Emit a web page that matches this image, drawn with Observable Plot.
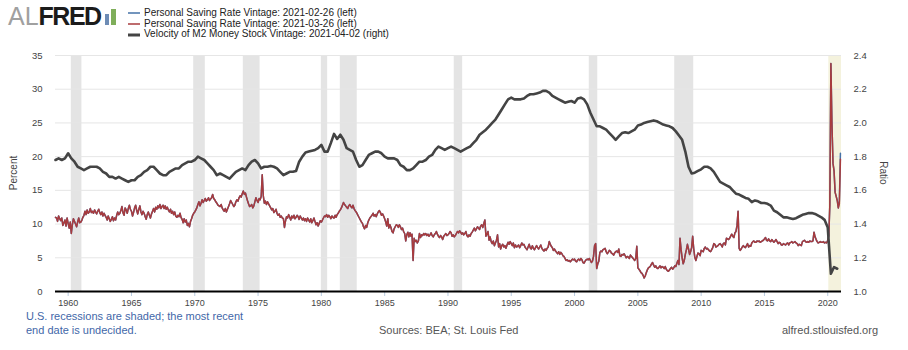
<!DOCTYPE html>
<html>
<head>
<meta charset="utf-8">
<script src="https://cdn.jsdelivr.net/npm/d3@7"></script>
<script src="https://cdn.jsdelivr.net/npm/@observablehq/plot@0.6"></script>
<style>
  body { margin: 0; background: #fff; font-family: "Liberation Sans", Arial, sans-serif; }
  #wrap { position: relative; width: 908px; height: 350px; overflow: hidden; background: #fff; }
  #header { position: relative; height: 45px; }
  .logo { position: absolute; left: 8px; top: 1px; font-size: 25px; line-height: 30px; white-space: nowrap; }
  .logo .al { color: #a0a0a0; }
  .logo .fred { color: #1b1b1b; font-weight: bold; letter-spacing: -1.5px; }
  .logo svg { vertical-align: top; margin-left: 4px; margin-top: 8px; }
  .legend { position: absolute; left: 128px; top: 8px; font-size: 10px; color: #222; line-height: 10.6px; }
  .legend div { white-space: nowrap; }
  .legend svg { vertical-align: middle; margin-right: 4px; }
  #chart { position: absolute; left: 0; top: 45px; }
  .foot { position: absolute; font-size: 11px; white-space: nowrap; }
  .note { color: #3f67a8; left: 26px; }
  .gray { color: #555; }
  .ytitle { position: absolute; font-size: 10px; color: #444; white-space: nowrap; width: 60px; text-align: center; line-height: 12px; }
</style>
</head>
<body>
<div id="wrap">
  <div id="header">
    <div class="logo"><span class="al">AL</span><span class="fred">FRED</span><svg width="14" height="16"><rect x="0" y="5" width="4" height="11" fill="#6d8cb5"/><rect x="6" y="0" width="5" height="16" fill="#7fae5a"/></svg></div>
    <div class="legend" id="legend"></div>
  </div>
  <div id="chart"></div>
  <div class="ytitle" id="ytitleLeft" style="left:-16px;top:167px;transform:rotate(-90deg)">Percent</div>
  <div class="ytitle" id="ytitleRight" style="left:853px;top:167px;transform:rotate(90deg)">Ratio</div>
  <div class="foot note" style="top:310px">U.S. recessions are shaded; the most recent</div>
  <div class="foot note" style="top:324px">end date is undecided.</div>
  <div class="foot gray" id="sources" style="top:324px;left:379px">Sources: BEA; St. Louis Fed</div>
  <div class="foot gray" style="top:324px;right:30px">alfred.stlouisfed.org</div>
</div>
<script>
// ---------------- DATA ----------------
// Personal Saving Rate, vintage 2021-03-26 (percent), monthly from Jan 1959 to Jan 2021
const savingRateMar = [
  11.0,10.9,10.4,11.2,10.8,10.5,10.9,9.8,10.2,10.6,9.7,10.9,   // 1959
  10.1,9.4,10.3,8.6,9.9,10.8,10.4,10.0,9.6,10.3,10.9,10.2,     // 1960
  10.3,10.6,11.0,11.3,11.9,11.4,12.1,11.6,11.8,12.3,11.7,11.9, // 1961
  11.6,12.1,11.8,11.5,11.9,12.2,11.7,11.4,11.8,11.2,11.6,11.3, // 1962
  11.0,10.6,11.2,10.8,10.4,10.7,11.1,10.5,10.9,10.6,11.3,11.8, // 1963
  11.4,11.6,12.0,12.6,11.7,11.3,12.4,12.1,11.6,12.3,12.8,12.2, // 1964
  11.9,11.2,11.7,12.4,12.8,12.0,11.5,12.2,12.7,11.8,11.4,11.9, // 1965
  11.6,11.1,10.7,11.4,11.8,11.3,10.9,11.5,11.9,12.3,11.8,12.5, // 1966
  12.2,12.7,12.4,12.9,12.3,12.6,12.8,12.3,12.7,12.2,12.5,12.1, // 1967
  11.8,12.2,11.6,11.9,11.4,11.8,11.2,11.0,11.3,11.1,11.6,11.0, // 1968
  10.7,10.2,10.8,10.3,10.6,9.8,10.1,9.6,10.4,10.8,11.3,11.6,   // 1969
  11.8,12.1,12.4,12.9,13.3,12.7,13.1,13.6,13.2,13.5,13.8,13.4, // 1970
  13.6,13.9,13.5,13.7,13.9,14.4,13.8,13.6,13.3,13.1,12.8,12.7, // 1971
  12.6,12.9,12.4,12.1,11.9,12.3,11.8,12.2,12.6,13.0,13.5,13.2, // 1972
  12.9,12.6,12.8,13.3,13.6,13.4,13.9,14.2,14.0,14.5,14.9,14.4, // 1973
  14.6,14.0,13.5,13.0,12.6,12.7,12.9,12.4,12.7,13.3,13.9,13.5, // 1974
  13.2,13.8,13.6,14.1,17.3,14.2,13.1,13.4,12.9,13.3,13.0,12.7, // 1975
  12.4,12.1,12.3,11.7,11.9,12.2,11.6,11.3,11.5,11.0,11.2,10.9, // 1976
  10.8,9.5,10.4,11.1,10.9,11.4,11.0,10.6,11.2,10.9,11.3,10.8,  // 1977
  11.0,11.3,11.1,10.7,11.2,10.9,10.6,10.9,10.5,10.8,10.4,10.9, // 1978
  10.6,10.3,10.8,10.2,10.5,10.9,10.4,9.9,10.2,9.7,10.1,10.5,   // 1979
  10.3,10.6,10.9,11.2,11.1,11.4,11.0,11.3,11.1,10.8,11.2,11.0, // 1980
  10.9,11.3,11.0,11.4,11.6,11.9,12.1,12.4,12.8,13.2,12.9,12.7, // 1981
  12.5,12.3,12.7,12.9,12.6,12.4,12.8,12.3,12.0,11.8,11.5,11.2, // 1982
  10.9,10.6,10.3,10.1,9.6,9.3,9.8,9.5,10.2,10.6,10.9,11.1,     // 1983
  11.3,11.6,11.2,11.4,11.1,11.5,11.8,12.0,11.7,11.3,11.5,11.2, // 1984
  10.8,10.3,9.7,10.8,9.4,9.9,9.5,8.9,8.7,9.3,9.6,9.9,          // 1985
  9.8,9.5,9.9,9.6,9.2,9.4,8.9,8.6,7.5,8.4,8.8,8.1,             // 1986
  8.7,8.2,8.5,4.6,7.9,7.4,7.6,7.2,7.5,8.6,8.0,8.4,             // 1987
  8.3,8.6,8.4,8.6,8.3,8.5,8.2,8.4,8.7,8.3,8.1,8.4,             // 1988
  8.6,8.9,8.5,8.2,8.0,8.3,8.1,7.7,8.2,8.4,8.6,8.3,             // 1989
  8.4,8.6,8.9,8.7,8.2,8.4,8.1,8.3,8.6,8.9,8.7,9.0,             // 1990
  8.8,8.5,8.7,8.4,8.6,8.9,8.3,8.1,8.4,8.2,8.6,8.8,             // 1991
  9.1,9.4,9.0,9.3,9.6,9.4,9.2,9.7,9.9,9.5,10.1,10.6,           // 1992
  8.2,8.5,8.9,7.6,8.1,7.4,7.1,7.5,6.8,7.2,7.6,8.4,             // 1993
  6.6,7.1,6.3,6.8,7.0,6.6,6.8,6.4,6.9,7.3,7.0,7.4,             // 1994
  7.1,6.8,7.2,6.5,6.9,6.6,6.7,6.9,6.5,6.8,7.2,6.9,             // 1995
  7.0,6.6,6.4,6.2,6.6,7.0,6.5,6.3,6.8,6.4,6.2,6.5,             // 1996
  6.8,6.5,6.3,6.6,6.9,6.4,6.2,6.0,6.3,6.1,6.4,6.6,             // 1997
  7.4,7.0,6.7,6.5,6.1,6.3,6.0,5.8,5.6,5.9,5.5,5.8,             // 1998
  5.6,5.3,5.2,4.9,4.6,4.7,4.5,4.6,4.4,4.6,4.8,4.7,             // 1999
  4.8,4.5,4.4,4.7,4.8,4.6,4.9,4.7,4.3,4.2,4.5,4.7,             // 2000
  4.8,4.7,4.9,4.6,4.3,4.5,5.2,6.8,7.1,3.4,4.1,4.5,             // 2001
  5.8,6.0,5.9,6.2,6.3,6.4,5.9,5.6,5.8,6.1,6.0,5.7,             // 2002
  5.6,5.4,5.7,5.9,6.0,5.8,6.3,5.3,5.2,5.5,5.4,5.6,             // 2003
  5.3,5.0,5.2,5.1,4.9,5.4,5.2,5.0,4.8,4.6,4.9,6.7,             // 2004
  3.5,3.3,3.1,2.8,2.7,2.4,2.0,2.3,2.8,3.2,3.5,3.6,             // 2005
  3.8,4.1,4.3,3.9,3.6,3.8,3.5,3.4,3.6,3.8,3.5,3.7,             // 2006
  3.6,3.4,3.7,3.3,3.1,3.0,3.2,3.4,3.6,3.3,3.5,3.8,             // 2007
  3.7,4.2,4.6,4.0,7.9,6.2,5.0,4.1,4.6,5.5,6.2,7.0,             // 2008
  6.3,5.5,5.9,6.5,8.2,6.3,5.1,4.6,5.2,5.7,5.6,5.3,             // 2009
  6.1,6.0,5.9,6.4,6.6,6.3,6.4,6.2,6.0,5.9,6.2,6.5,             // 2010
  7.1,7.0,6.6,6.7,6.8,7.0,7.1,6.9,6.6,7.1,7.2,6.9,             // 2011
  7.9,7.8,7.7,7.9,8.2,8.5,8.2,8.0,8.7,8.9,9.8,11.9,            // 2012
  6.4,6.1,6.3,6.6,6.8,6.6,6.5,6.8,7.1,6.6,6.8,6.7,             // 2013
  7.2,7.4,7.5,7.3,7.3,7.5,7.4,7.5,7.3,7.4,7.5,7.6,             // 2014
  7.8,8.0,7.6,7.5,7.8,7.5,7.4,7.7,7.5,7.3,7.5,7.7,             // 2015
  7.4,7.1,7.3,7.2,6.9,6.9,7.1,7.0,6.9,7.1,7.2,6.9,             // 2016
  7.2,7.3,7.4,7.2,7.3,7.4,7.2,7.1,6.8,7.0,6.9,6.8,             // 2017
  7.4,7.5,7.6,7.4,7.3,7.4,7.3,7.5,7.4,7.4,7.5,8.8,             // 2018
  8.1,7.7,7.4,7.2,7.3,7.4,7.3,7.3,7.4,7.2,7.3,7.2,             // 2019
  7.6,8.3,12.8,33.8,24.9,19.0,17.9,14.7,14.1,13.5,12.4,13.0,   // 2020
  19.6                                                         // 2021
];
// Vintage 2021-02-26 differs only in its last two months (Dec 2020, Jan 2021)
const savingRateFebTail = [13.4, 20.5];

// Velocity of M2 Money Stock, vintage 2021-04-02 (ratio), quarterly 1959Q1 to 2020Q4
const m2Velocity = [
  1.78,1.79,1.78,1.79,  1.82,1.79,1.77,1.74,  1.73,1.72,1.73,1.74,  1.74,1.74,1.73,1.71,  // 1959-62
  1.70,1.68,1.68,1.67,  1.68,1.67,1.66,1.65,  1.66,1.66,1.68,1.69,  1.71,1.72,1.74,1.74,  // 1963-66
  1.72,1.70,1.69,1.69,  1.71,1.72,1.73,1.73,  1.75,1.76,1.77,1.77,  1.78,1.80,1.79,1.78,  // 1967-70
  1.76,1.74,1.72,1.69,  1.70,1.69,1.68,1.67,  1.69,1.71,1.72,1.73,  1.72,1.75,1.77,1.78,  // 1971-74
  1.76,1.73,1.74,1.74,  1.745,1.74,1.73,1.71, 1.69,1.70,1.71,1.71,  1.715,1.77,1.80,1.825, // 1975-78
  1.83,1.835,1.84,1.85, 1.87,1.83,1.83,1.88,  1.935,1.905,1.93,1.90, 1.85,1.84,1.83,1.78,  // 1979-82
  1.74,1.75,1.78,1.81,  1.82,1.83,1.83,1.82,  1.80,1.79,1.79,1.79,  1.78,1.75,1.74,1.72,  // 1983-86
  1.72,1.73,1.75,1.77,  1.77,1.78,1.80,1.81,  1.84,1.86,1.85,1.84,  1.85,1.86,1.85,1.84,  // 1987-90
  1.83,1.84,1.85,1.86,  1.88,1.90,1.93,1.945, 1.96,1.98,2.00,2.02,  2.05,2.08,2.11,2.14,  // 1991-94
  2.15,2.14,2.14,2.14,  2.145,2.16,2.17,2.17, 2.175,2.18,2.19,2.19, 2.18,2.16,2.15,2.14,  // 1995-98
  2.13,2.12,2.125,2.13, 2.12,2.145,2.15,2.14, 2.11,2.06,2.02,1.98,  1.98,1.97,1.96,1.94,  // 1999-02
  1.92,1.90,1.92,1.94,  1.945,1.94,1.95,1.96, 1.985,1.99,2.00,2.005, 2.01,2.015,2.01,2.00, // 2003-06
  1.99,1.985,1.98,1.97, 1.95,1.925,1.90,1.83, 1.74,1.70,1.705,1.715, 1.725,1.74,1.74,1.73, // 2007-10
  1.71,1.68,1.65,1.64,  1.63,1.62,1.60,1.58,  1.575,1.565,1.555,1.55, 1.53,1.54,1.535,1.525, // 2011-14
  1.525,1.52,1.51,1.48, 1.47,1.455,1.44,1.44, 1.435,1.43,1.435,1.445, 1.455,1.46,1.465,1.465, // 2015-18
  1.46,1.45,1.44,1.425, 1.38,1.105,1.145,1.135                                            // 2019-20
];

// NBER recessions (shaded)
const recessionStart = ["1960-04-01","1969-12-01","1973-11-01","1980-01-01","1981-07-01","1990-07-01","2001-03-01","2007-12-01"];
const recessionEnd   = ["1961-02-01","1970-11-01","1975-03-01","1980-07-01","1982-11-01","1991-03-01","2001-11-01","2009-06-01"];
const openRecessionStart = ["2020-02-01"];

// Axis ticks
const percentTicks = [0, 5, 10, 15, 20, 25, 30, 35];
const ratioTicks = [1.0, 1.2, 1.4, 1.6, 1.8, 2.0, 2.2, 2.4];
const yearTicks = [1960, 1965, 1970, 1975, 1980, 1985, 1990, 1995, 2000, 2005, 2010, 2015, 2020];

// Legend
const seriesNames = [
  "Personal Saving Rate Vintage: 2021-02-26 (left)",
  "Personal Saving Rate Vintage: 2021-03-26 (left)",
  "Velocity of M2 Money Stock Vintage: 2021-04-02 (right)"
];
const seriesColors = ["#4572a7", "#a83b3e", "#444444"];
const seriesWidths = [1.5, 1.5, 2.6];

// ---------------- BUILD ----------------
const monthDate = i => new Date(Date.UTC(1959, i, 1));
const redData = savingRateMar.map((v, i) => ({date: monthDate(i), v}));
const blueVals = savingRateMar.slice(0, savingRateMar.length - savingRateFebTail.length).concat(savingRateFebTail);
const blueData = blueVals.map((v, i) => ({date: monthDate(i), v}));
// map ratio onto percent axis: 1.0 -> 0, 2.4 -> 35
const ratioToPct = r => (r - 1) / 0.04;
const m2Data = m2Velocity.map((r, i) => ({date: new Date(Date.UTC(1959, 3 * i, 1)), v: ratioToPct(r)}));
const xStart = new Date(Date.UTC(1959, 0, 1));
const xEnd = new Date(Date.UTC(2021, 1, 1));
const recessions = recessionStart.map((s, i) => ({start: new Date(s), end: new Date(recessionEnd[i])}));
const openRec = openRecessionStart.map(s => ({start: new Date(s), end: xEnd}));

// legend
const legend = document.getElementById("legend");
seriesNames.forEach((name, i) => {
  const row = document.createElement("div");
  row.innerHTML = `<svg width="12" height="6"><line x1="0" x2="12" y1="3" y2="3" stroke="${seriesColors[i]}" stroke-width="${i === 2 ? 3 : 1.5}"/></svg>${name}`;
  legend.appendChild(row);
});

const chart = Plot.plot({
  width: 908,
  height: 265,
  marginTop: 10,
  marginBottom: 19,
  marginLeft: 55,
  marginRight: 67,
  style: {fontFamily: "'Liberation Sans', Arial, sans-serif", fontSize: "9px", color: "#444", background: "#fff"},
  x: {type: "utc", domain: [xStart, xEnd]},
  y: {domain: [0, 35]},
  marks: [
    Plot.rect(recessions, {x1: "start", x2: "end", fill: "#e4e4e4"}),
    Plot.rect(openRec, {x1: "start", x2: "end", fill: "#f4f2dd"}),
    Plot.ruleY(percentTicks.slice(1), {stroke: "#e6e6e6", strokeWidth: 1}),
    Plot.axisY(percentTicks, {anchor: "left", tickSize: 0, tickPadding: 13, label: null, fontSize: 9.5}),
    Plot.axisY(ratioTicks.map(ratioToPct), {anchor: "right", tickSize: 0, tickPadding: 12, tickFormat: d => (1 + d * 0.04).toFixed(1), label: null, fontSize: 9.5}),
    Plot.axisX(yearTicks.map(y => new Date(Date.UTC(y, 0, 1))), {tickSize: 5, tickPadding: 3, stroke: "#b9cbe0", tickFormat: d => String(d.getUTCFullYear()), label: null, fontSize: 9}),
    Plot.line(blueData, {x: "date", y: "v", stroke: seriesColors[0], strokeWidth: seriesWidths[0]}),
    Plot.line(redData, {x: "date", y: "v", stroke: seriesColors[1], strokeWidth: seriesWidths[1]}),
    Plot.line(m2Data, {x: "date", y: "v", stroke: seriesColors[2], strokeWidth: seriesWidths[2], strokeLinejoin: "round"}),
    Plot.ruleY([0], {stroke: "#000", strokeWidth: 2})
  ]
});
document.getElementById("chart").appendChild(chart);
</script>
</body>
</html>
